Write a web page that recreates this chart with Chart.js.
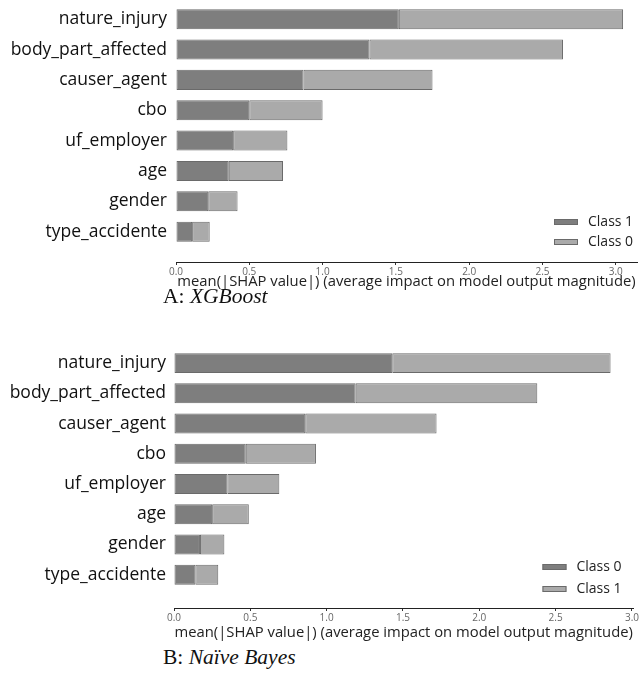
<!DOCTYPE html>
<html>
<head>
<meta charset="utf-8">
<script src="https://cdn.jsdelivr.net/npm/chart.js@4.4.0/dist/chart.umd.min.js"></script>
<style>
  body { margin: 0; background: #fff; width: 640px; height: 677px; position: relative; overflow: hidden; }
  .box { position: absolute; left: 0; width: 640px; }
  .cap { position: absolute; left: 163px; font-family: "Liberation Serif", serif; font-size: 21.5px; color: #111; line-height: 24px; }
</style>
</head>
<body>
<div class="box" style="top:0;height:291px"><canvas id="chartA"></canvas></div>
<div class="cap" style="top:284px">A: <i>XGBoost</i></div>
<div class="box" style="top:340px;height:302px"><canvas id="chartB"></canvas></div>
<div class="cap" style="top:645px">B: <i>Naïve Bayes</i></div>
<script>
var features = ['nature_injury', 'body_part_affected', 'causer_agent', 'cbo', 'uf_employer', 'age', 'gender', 'type_accidente'];
var xTicks = [0, 0.5, 1.0, 1.5, 2.0, 2.5, 3.0];
var axisTitle = 'mean(|SHAP value|) (average impact on model output magnitude)';

// A: XGBoost
var xgbClass1 = [1.52, 1.32, 0.87, 0.50, 0.39, 0.36, 0.22, 0.11];
var xgbClass0 = [1.53, 1.32, 0.88, 0.50, 0.37, 0.37, 0.20, 0.12];

// B: Naive Bayes
var nbClass0 = [1.43, 1.19, 0.86, 0.47, 0.35, 0.25, 0.17, 0.14];
var nbClass1 = [1.43, 1.19, 0.86, 0.46, 0.34, 0.24, 0.16, 0.15];

var dark = '#7e7e7e';
var light = '#aaaaaa';
var edge = '#6a6a6a';

function points(vals) {
    return vals.map(function (v, i) { return { x: v, y: i }; });
}

// legend drawn inside the plot, lower right, like the shap plot
var innerLegend = {
    id: 'innerLegend',
    afterDraw: function (chart, args, opts) {
        var ctx = chart.ctx, area = chart.chartArea;
        var sets = chart.data.datasets;
        ctx.save();
        ctx.font = '14px "Open Sans"';
        ctx.textBaseline = 'middle';
        ctx.textAlign = 'left';
        for (var i = 0; i < sets.length; i++) {
            var y = area.bottom - opts.bottom - (sets.length - 1 - i) * opts.gap;
            var x = area.right - opts.fromRight;
            ctx.fillStyle = sets[i].backgroundColor;
            ctx.fillRect(x, y - 3, 24, 6);
            ctx.strokeStyle = edge;
            ctx.lineWidth = 1;
            ctx.strokeRect(x + 0.5, y - 2.5, 23, 5);
            ctx.fillStyle = '#222';
            ctx.fillText(sets[i].label, x + 34, y);
        }
        ctx.restore();
    }
};

function makeChart(id, labels, first, second, cfg) {
    var ctx = document.getElementById(id).getContext('2d');
    return new Chart(ctx, {
        type: 'bar',
        data: {
            datasets: [{
                    label: labels[0],
                    data: points(first),
                    backgroundColor: dark,
                    borderColor: edge,
                    borderWidth: 1,
                    borderSkipped: false
                },
                {
                    label: labels[1],
                    data: points(second),
                    backgroundColor: light,
                    borderColor: edge,
                    borderWidth: 1,
                    borderSkipped: false
                }
            ]
        },
        options: {
            indexAxis: 'y',
            responsive: true,
            maintainAspectRatio: false,
            animation: false,
            layout: { padding: { top: cfg.top, right: 640 - cfg.right, left: 0, bottom: 0 } },
            datasets: { bar: { categoryPercentage: 1, barPercentage: 0.66 } },
            scales: {
                x: {
                    type: 'linear',
                    stacked: true,
                    bounds: 'data',
                    min: 0,
                    max: cfg.xmax,
                    afterBuildTicks: function (s) {
                        s.ticks = xTicks.map(function (v) { return { value: v }; });
                    },
                    afterFit: function (s) { s.height = cfg.xh; },
                    ticks: {
                        autoSkip: false,
                        maxRotation: 0,
                        padding: 1,
                        color: '#666',
                        font: { family: 'Open Sans', size: 10 },
                        callback: function (v) { return v.toFixed(1); }
                    },
                    grid: { drawOnChartArea: false, drawTicks: true, tickLength: 3, color: '#333' },
                    border: { display: true, color: '#222', width: 1 },
                    title: {
                        display: true,
                        text: axisTitle,
                        color: '#222',
                        padding: { top: 0, bottom: 0 },
                        font: { family: 'Open Sans', size: 14.8 }
                    }
                },
                y: {
                    type: 'linear',
                    stacked: true,
                    reverse: true,
                    offset: false,
                    bounds: 'data',
                    min: -0.5,
                    max: cfg.ymax,
                    afterBuildTicks: function (s) {
                        s.ticks = features.map(function (f, i) { return { value: i }; });
                    },
                    afterFit: function (s) {
                        s.width = cfg.left;
                        s.paddingTop = 0;
                        s.paddingBottom = 0;
                    },
                    ticks: {
                        includeBounds: false,
                        padding: cfg.lpad,
                        color: '#111',
                        font: { family: 'Open Sans', size: 17.5 },
                        callback: function (v) { return features[v]; }
                    },
                    grid: { display: false, drawTicks: false, offset: false },
                    border: { display: false }
                }
            },
            plugins: {
                legend: { display: false },
                tooltip: { enabled: false },
                innerLegend: { bottom: cfg.lgBottom, gap: cfg.lgGap, fromRight: cfg.lgRight }
            }
        },
        plugins: [innerLegend]
    });
}

makeChart('chartA', ['Class 1', 'Class 0'], xgbClass1, xgbClass0,
    { top: 4, right: 637, xmax: 3.145, ymax: 8.0, xh: 29, left: 176, lpad: 9, lgBottom: 20, lgGap: 20, lgRight: 83 });

makeChart('chartB', ['Class 0', 'Class 1'], nbClass0, nbClass1,
    { top: 8, right: 634, xmax: 3.01, ymax: 8.1, xh: 34, left: 174, lpad: 8, lgBottom: 19, lgGap: 22, lgRight: 91 });
</script>
</body>
</html>
